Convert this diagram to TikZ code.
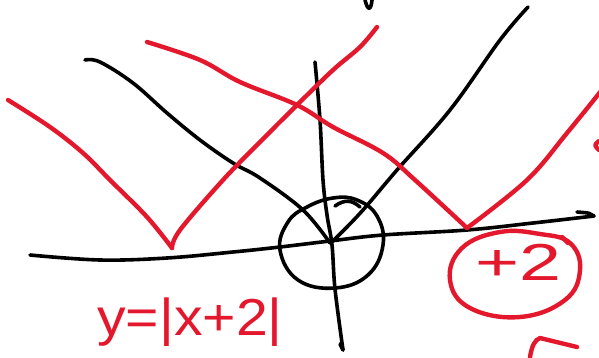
\documentclass[tikz,border=0pt]{standalone}
\usepackage{fontspec}
\setmainfont{Liberation Sans}
\definecolor{penred}{RGB}{228,24,44}
\begin{document}
\begin{tikzpicture}[x=1pt,y=-1pt,
  blk/.style={draw=black,line width=3.6pt,line cap=round,line join=round},
  rd/.style={draw=penred,line width=4.4pt,line cap=round,line join=round},
  hand/.style={text=penred,inner sep=0pt,font=\fontsize{52}{52}\selectfont}]
\useasboundingbox (0,0) rectangle (599,357);
% axes
\draw[blk] plot[smooth,tension=0.6] coordinates {(30,255) (100,260) (167,258) (233,252) (280,247) (330,241) (383,235) (467,230) (533,223) (594,216)};
\draw[blk] (577,212) .. controls (590,213) .. (594,216);
\draw[blk] plot[smooth,tension=0.6] coordinates {(315,62) (320,120) (323,180) (327,215) (332,245) (335,289) (343,350)};
\draw[blk] (340,344) -- (343,350);
% black curve and line
\draw[blk] plot[smooth,tension=0.6] coordinates {(85,60) (100,62) (133,83) (167,113) (200,140) (233,163) (260,178) (303,210) (330,243)};
\draw[blk] plot[smooth,tension=0.6] coordinates {(330,243) (337,237) (363,210) (397,170) (450,110) (500,40) (528,7)};
\draw[blk] (365,0) .. controls (368,12) and (371,10) .. (372,0);
% circle at origin
\draw[blk] plot[smooth cycle,tension=0.7] coordinates {(307,207) (333,198) (357,200) (377,216) (383,245) (368,275) (335,288) (298,280) (280,250) (288,222)};
\draw[blk] (335,206) .. controls (345,199) and (352,200) .. (360,207);
% red V shapes
\draw[rd] plot[smooth,tension=0.6] coordinates {(8,100) (50,127) (83,153) (110,180) (147,217) (172,248)};
\draw[rd] plot[smooth,tension=0.6] coordinates {(172,248) (180,230) (223,180) (260,142) (297,105) (333,70) (360,47) (377,27)};
\draw[rd] plot[smooth,tension=0.6] coordinates {(147,42) (200,60) (240,82) (297,105) (333,127) (383,153) (415,180) (467,228)};
\draw[rd] plot[smooth,tension=0.6] coordinates {(467,228) (527,180) (567,133) (605,86)};
\draw[rd] (599,141) .. controls (594,145) .. (599,150);
% circled +2
\draw[rd] plot[smooth cycle,tension=0.7] coordinates {(500,232) (540,234) (570,243) (580,270) (565,300) (520,317) (470,308) (450,280) (462,248)};
\draw[rd] (562,237) -- (568,243);
\node[hand,xscale=1.45] (plus) at (518,262) {+2};
% formula
\node[hand,xscale=1.1] (eq) at (190,322) {y=|x+2|};
% partial stroke bottom right
\draw[rd] (530,357) .. controls (532,345) and (535,340) .. (540,338) -- (577,347);
\end{tikzpicture}
\end{document}
